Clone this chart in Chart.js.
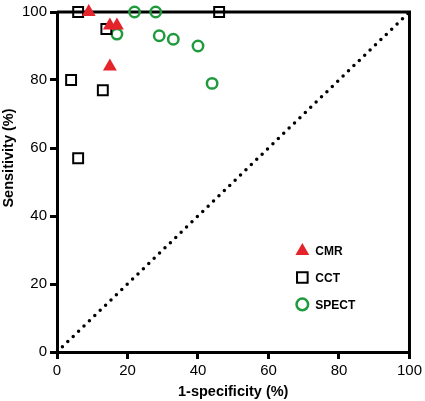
<!DOCTYPE html>
<html>
<head>
<meta charset="utf-8">
<script src="https://cdn.jsdelivr.net/npm/chart.js@4.4.1/dist/chart.umd.min.js"></script>
<style>
  html, body { margin: 0; padding: 0; background: #fff; }
  #wrap { width: 425px; height: 401px; position: relative; }
</style>
</head>
<body>
<div id="wrap"><canvas id="roc"></canvas></div>
<script>
// ─── Data ───

const cmrX = [9, 15, 17, 15];
const cmrY = [100, 96, 96, 84];

const cctX = [6, 4, 13, 14, 6, 46];
const cctY = [100, 80, 77, 95, 57, 100];

const spectX = [17, 22, 28, 29, 33, 40, 44];
const spectY = [93.5, 100, 100, 93, 92, 90, 79];

const diagX = [0, 100];
const diagY = [0, 100];

const axisTicks = [0, 20, 40, 60, 80, 100];

const xTitle = '1-specificity (%)';
const yTitle = 'Sensitivity (%)';

const RED = '#e4232b';
const GREEN = '#1f9a3c';
const FONT = '"Liberation Sans", Arial, Helvetica, sans-serif';

const toPoints = (xs, ys) => xs.map((x, i) => ({ x, y: ys[i] }));

// ─── Plugins: box frame, axis titles, legend inside plot ───

const frame = {
  id: 'frame',
  beforeDatasetsDraw(chart) {
    const { ctx, chartArea: a } = chart;
    ctx.save();
    ctx.strokeStyle = '#000';
    ctx.lineWidth = 3;
    ctx.beginPath();
    ctx.moveTo(a.left, a.top);
    ctx.lineTo(a.right, a.top);
    ctx.lineTo(a.right, a.bottom);
    ctx.stroke();
    ctx.restore();
  },
  afterDraw(chart) {
    const { ctx, chartArea: a } = chart;
    ctx.save();
    ctx.fillStyle = '#000';
    ctx.font = 'bold 14.5px ' + FONT;
    ctx.textAlign = 'center';
    ctx.textBaseline = 'middle';
    ctx.fillText(xTitle, (a.left + a.right) / 2, 392);
    ctx.translate(9, 158);
    ctx.rotate(-Math.PI / 2);
    ctx.fillText(yTitle, 0, 0);
    ctx.restore();
  },
};

const insideLegend = {
  id: 'insideLegend',
  afterDatasetsDraw(chart) {
    const { ctx, scales } = chart;
    const x = scales.x.getPixelForValue(69.6);
    const rows = [29.7, 21.9, 14];
    ctx.save();
    chart.data.datasets.slice(0, 3).forEach((ds, i) => {
      const y = scales.y.getPixelForValue(rows[i]);
      ctx.fillStyle = ds.backgroundColor;
      ctx.strokeStyle = ds.borderColor;
      ctx.lineWidth = ds.borderWidth;
      Chart.helpers.drawPoint(ctx, {
        pointStyle: ds.pointStyle,
        radius: ds.legendRadius,
        borderWidth: ds.borderWidth,
        rotation: 0,
      }, x, y);
      ctx.fillStyle = '#000';
      ctx.font = 'bold 12px ' + FONT;
      ctx.textAlign = 'left';
      ctx.textBaseline = 'middle';
      ctx.fillText(ds.label, x + 13, y + 1);
    });
    ctx.restore();
  },
};

// ─── Chart ───

new Chart(document.getElementById('roc'), {
  type: 'scatter',
  data: {
    datasets: [
      {
        label: 'CMR',
        data: toPoints(cmrX, cmrY),
        pointStyle: 'triangle',
        pointRadius: 8,
        legendRadius: 8,
        backgroundColor: RED,
        borderColor: RED,
        borderWidth: 0,
        clip: false,
      },
      {
        label: 'CCT',
        data: toPoints(cctX, cctY),
        pointStyle: 'rect',
        pointRadius: 7,
        legendRadius: 7.5,
        backgroundColor: 'rgba(0,0,0,0)',
        borderColor: '#000',
        borderWidth: 2,
        clip: false,
      },
      {
        label: 'SPECT',
        data: toPoints(spectX, spectY),
        pointStyle: 'circle',
        pointRadius: 5.2,
        legendRadius: 5.8,
        backgroundColor: 'rgba(0,0,0,0)',
        borderColor: GREEN,
        borderWidth: 2.5,
        clip: false,
      },
      {
        label: 'chance',
        data: toPoints(diagX, diagY),
        showLine: true,
        pointRadius: 0,
        borderColor: '#000',
        borderWidth: 3.5,
        borderDash: [0, 7.5],
        borderCapStyle: 'round',
        fill: false,
      },
    ],
  },
  options: {
    responsive: true,
    maintainAspectRatio: false,
    animation: false,
    layout: { autoPadding: false, padding: { top: 9, right: 14, left: 0, bottom: 0 } },
    plugins: {
      legend: { display: false },
      tooltip: { enabled: false },
    },
    scales: {
      x: {
        type: 'linear',
        min: 0,
        max: 100,
        afterBuildTicks: s => { s.ticks = axisTicks.map(v => ({ value: v })); },
        afterFit: s => { s.height = 49; },
        grid: { drawOnChartArea: false, drawTicks: true, tickLength: 7, lineWidth: 3, color: '#000' },
        border: { display: true, width: 3, color: '#000' },
        ticks: { color: '#000', padding: 3, font: { size: 15, family: FONT } },
      },
      y: {
        type: 'linear',
        min: 0,
        max: 100,
        afterBuildTicks: s => { s.ticks = axisTicks.map(v => ({ value: v })); },
        afterFit: s => { s.width = 57; },
        grid: { drawOnChartArea: false, drawTicks: true, tickLength: 7, lineWidth: 3, color: '#000' },
        border: { display: true, width: 3, color: '#000' },
        ticks: { color: '#000', padding: 3, font: { size: 15, family: FONT } },
      },
    },
  },
  plugins: [frame, insideLegend],
});
</script>
</body>
</html>
